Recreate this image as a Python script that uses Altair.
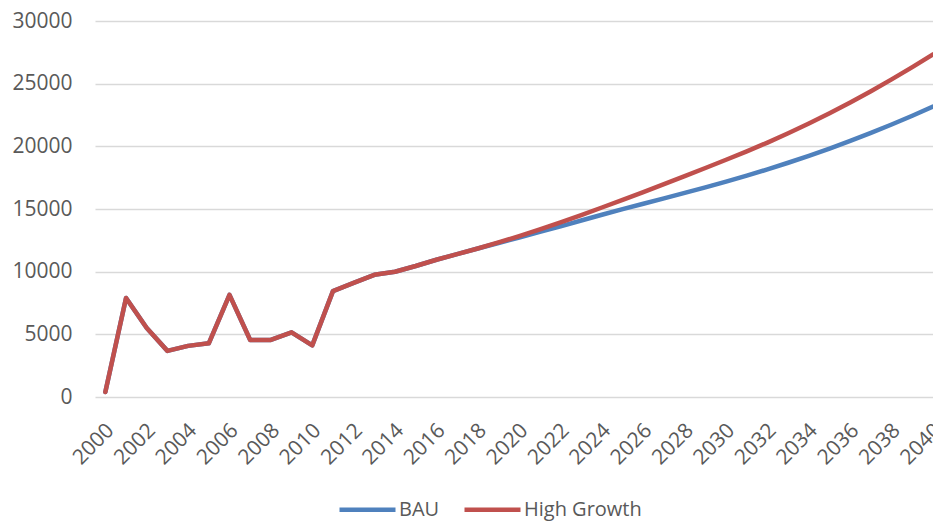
import altair as alt
import pandas as pd

years = list(range(2000, 2041))

bau = [400, 7900, 5500, 3680, 4080, 4280, 8150, 4550, 4550, 5160,
       4120, 8450, 9100, 9750, 9990, 10450, 10950, 11400, 11850, 12290,
       12730, 13170, 13620, 14080, 14540, 14990, 15420, 15850, 16290, 16730,
       17190, 17660, 18160, 18690, 19240, 19820, 20430, 21070, 21740, 22440,
       23180]

high = [400, 7900, 5500, 3680, 4080, 4280, 8150, 4550, 4550, 5160,
        4120, 8450, 9100, 9750, 9990, 10450, 10950, 11400, 11850, 12330,
        12840, 13380, 13940, 14520, 15120, 15730, 16350, 16980, 17620, 18270,
        18930, 19600, 20300, 21040, 21820, 22640, 23500, 24400, 25340, 26320,
        27340]

series_names = ["BAU", "High Growth"]
series_colors = ["#4F81BD", "#C0504D"]
x_ticks = list(range(2000, 2041, 2))
y_ticks = [0, 5000, 10000, 15000, 20000, 25000, 30000]

df = pd.DataFrame({
    "year": years * 2,
    "value": bau + high,
    "series": ["BAU"] * len(years) + ["High Growth"] * len(years),
})

FONT = "Open Sans"
GREY = "#595959"

x_enc = alt.X(
    "year:Q",
    scale=alt.Scale(domain=[1999.5, 2040], nice=False, zero=False),
    axis=alt.Axis(
        values=x_ticks, format="d", title=None, grid=False, ticks=False,
        domain=False, labelAngle=-45, labelAlign="right", labelBaseline="middle",
        labelPadding=30, labelOffset=5, labelFont=FONT, labelFontSize=21,
        labelColor=GREY, labelOverlap=False, labelFlush=False,
    ),
)
y_enc = alt.Y(
    "value:Q",
    scale=alt.Scale(domain=[0, 30000], nice=False),
    axis=alt.Axis(
        values=y_ticks, format="d", title=None, ticks=False, domain=False,
        gridColor="#D9D9D9", gridWidth=1.5, labelPadding=23,
        labelFont=FONT, labelFontSize=21, labelColor=GREY,
    ),
)
color_enc = alt.Color(
    "series:N",
    scale=alt.Scale(domain=series_names, range=series_colors),
    legend=alt.Legend(
        orient="none", legendX=242, legendY=458, direction="horizontal",
        title=None, symbolType="stroke", symbolSize=3136,
        symbolStrokeWidth=4.5, labelFont=FONT, labelFontSize=20,
        labelColor=GREY, columnPadding=15, labelOffset=1,
    ),
)

base = alt.Chart(df)
line_bau = base.transform_filter(alt.datum.series == "BAU").mark_line(
    strokeWidth=4.5, strokeCap="round", strokeJoin="round", clip=True
).encode(x=x_enc, y=y_enc, color=color_enc)
line_high = base.transform_filter(alt.datum.series == "High Growth").mark_line(
    strokeWidth=4.5, strokeCap="round", strokeJoin="round", clip=True
).encode(x=x_enc, y=y_enc, color=color_enc)

chart = (
    alt.layer(line_bau, line_high)
    .properties(
        width=838, height=376,
        autosize=alt.AutoSizeParams(type="none"),
        padding={"left": 95, "top": 21, "right": 0, "bottom": 126},
        background="white",
    )
    .configure_view(stroke=None)
)

chart.save("out.html", embed_options={"renderer": "svg", "actions": False})
